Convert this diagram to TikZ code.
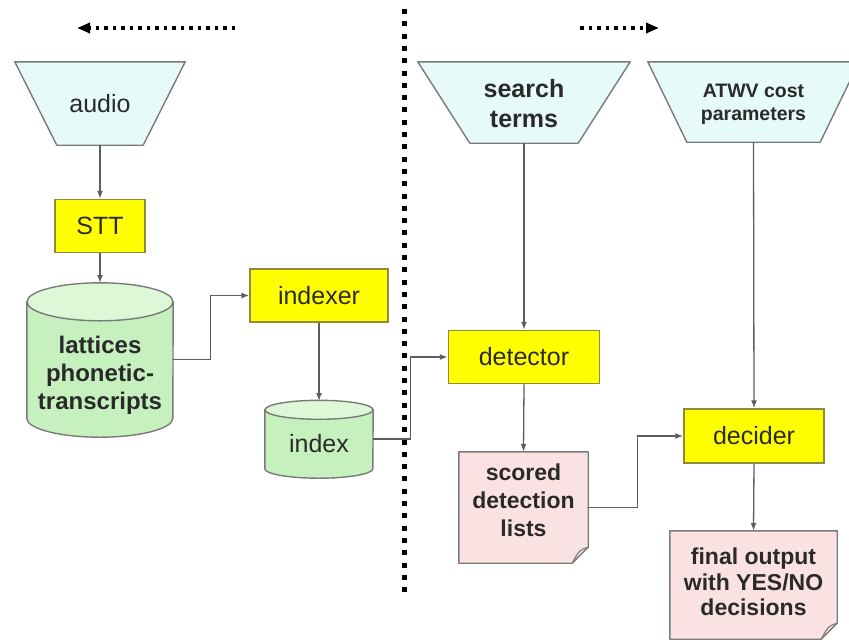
\documentclass[tikz,border=0pt]{standalone}
\usepackage{fontspec}
\setmainfont{Liberation Sans}
\usetikzlibrary{arrows.meta,calc,backgrounds}

\definecolor{linegray}{HTML}{5E5E5E}
\definecolor{edgegray}{HTML}{7A7A7A}
\definecolor{inputfill}{HTML}{E6FAFA}
\definecolor{procfill}{HTML}{FFFF00}
\definecolor{procedge}{HTML}{8C8C3C}
\definecolor{cylbody}{HTML}{C6F1BF}
\definecolor{cyltop}{HTML}{DCF8D7}
\definecolor{docfill}{HTML}{FBE2E2}
\definecolor{inkcol}{HTML}{2A2A2A}

% outline of an input trapezoid drawn round node #1, bottom edge inset by #2
\newcommand\trapoutline[2]{%
  \filldraw[draw=edgegray, fill=inputfill, line width=1.4pt, line join=round]
    (#1.north west) -- (#1.north east) -- ($(#1.south east)+(-#2,0)$)
    -- ($(#1.south west)+(#2,0)$) -- cycle;}
% cylinder round body node #1, half width #2, ellipse radius #3
\newcommand\cylinderoutline[3]{%
  \filldraw[draw=edgegray, fill=cylbody, line width=1.4pt]
    (#1.north west) -- ($(#1.south west)+(0,-#3)$)
    arc[start angle=180, end angle=360, x radius=#2pt, y radius=#3pt]
    -- (#1.north east) -- cycle;
  \filldraw[draw=edgegray, fill=cyltop, line width=1.4pt]
    (#1.north) ellipse[x radius=#2pt, y radius=#3pt];}
% document sheet with a folded lower right corner round node #1
\newcommand\pageoutline[1]{%
  \filldraw[draw=edgegray, fill=docfill, line width=1.4pt, line join=round]
    (#1.north west) -- (#1.north east) -- ($(#1.south east)+(0,-16)$)
    -- ($(#1.south east)+(-16,0)$) -- (#1.south west) -- cycle;
  \draw[edgegray, line width=1.1pt]
    ($(#1.south east)+(0,-16)$) .. controls ($(#1.south east)+(-9,-13)$)
    .. ($(#1.south east)+(-16,0)$);}
% centred lines moved vertically by #1 without changing the box size
\newcommand\shiftedlines[2]{%
  \raisebox{#1}[\height][\depth]{\begin{tabular}{@{}c@{}}#2\end{tabular}}}

\begin{document}
\begin{tikzpicture}[x=1pt, y=-1pt,
  txt/.style={text=inkcol, align=center, inner sep=0pt},
  plain/.style={txt, font=\fontsize{25}{30}\selectfont},
  heavy/.style={txt, font=\bfseries\fontsize{23}{28}\selectfont},
  inputbox/.style={rectangle, minimum width=#1, minimum height=82},
  procbox/.style={rectangle, draw=procedge, fill=procfill, line width=1.5pt,
    minimum height=53, plain},
  flow/.style={draw=linegray, line width=1.3pt,
    -{Latex[length=8pt, width=6pt]}},
  dotarrow/.style={line width=3.5pt, dash pattern=on 3.5pt off 5pt,
    -{Triangle[length=13pt, width=10pt]}},
  sepline/.style={line width=5pt, dash pattern=on 5pt off 7.3pt}]

\useasboundingbox (0,0) rectangle (849,641);
\clip (0,0) rectangle (849,641);

% direction markers and the separating line
\coordinate (lstart) at (235,28);
\coordinate (lend)   at (77,28);
\coordinate (rstart) at (580,28);
\coordinate (rend)   at (659,28);
\coordinate (septop) at (404,9);
\coordinate (sepbot) at (404,596);
\draw[dotarrow] (lstart) -- (lend);
\draw[dotarrow] (rstart) -- (rend);
\draw[sepline] (septop) -- (sepbot);

% inputs
\node[inputbox=170, minimum height=83, plain] (audio) at (100,103.5) {audio};
\node[inputbox=212, minimum height=81, heavy, font=\bfseries\fontsize{25}{30}\selectfont]
  (search) at (524,102.5) {\shiftedlines{-4pt}{search\\terms}};
\node[inputbox=211, minimum height=80, heavy, font=\bfseries\fontsize{19.5}{23}\selectfont]
  (atwv) at (753.5,102) {\shiftedlines{-2pt}{ATWV cost\\parameters}};

% processing steps
\node[procbox, minimum width=90] (stt) at (100,226) {STT};
\node[procbox, minimum width=138] (indexer) at (319,295.5) {indexer};
\node[procbox, minimum width=151] (det) at (524,357) {detector};
\node[procbox, minimum width=140, minimum height=54] (dec) at (754,436) {decider};

% stored data
\node[rectangle, minimum width=146, minimum height=135, heavy,
  font=\bfseries\fontsize{24}{28}\selectfont] (lat) at (100,369.5)
  {\shiftedlines{-6pt}{lattices\\phonetic-\\transcripts}};
\coordinate (lattop) at (100,283);
\node[rectangle, minimum width=108, minimum height=68, plain] (idx) at (319,444) {index};
\coordinate (idxtop) at (319,401);

% outputs
\node[rectangle, minimum width=129, minimum height=111, heavy] (scored)
  at (523.5,507.5) {\shiftedlines{5pt}{scored\\detection\\lists}};
\node[rectangle, minimum width=167, minimum height=108, heavy,
  font=\bfseries\fontsize{23}{25.5}\selectfont] (final)
  at (753.5,585) {\shiftedlines{0pt}{final output\\with YES/NO\\decisions}};

\begin{pgfonlayer}{background}
  \trapoutline{audio}{42}
  \trapoutline{search}{52}
  \trapoutline{atwv}{39}
  \cylinderoutline{lat}{73}{19}
  \cylinderoutline{idx}{54}{9.5}
  \pageoutline{scored}
  \pageoutline{final}
\end{pgfonlayer}

% connectors
\draw[flow] (audio.south) -- (stt.north);
\draw[flow] (stt.south) -- (lattop);
\draw[flow] ([yshift=10pt]lat.east) -- ++(37,0) |- (indexer.west);
\draw[flow] (indexer.south) -- (idxtop);
\draw[flow] ([yshift=5pt]idx.east) -- ++(37,0) |- (det.west);
\draw[flow] (search.south) -- (det.north);
\draw[flow] (det.south) -- (scored.north);
\draw[flow] (scored.east) -- ++(49,0) |- (dec.west);
\draw[flow] (atwv.south) -- (dec.north);
\draw[flow] (dec.south) -- (final.north);
\end{tikzpicture}
\end{document}
